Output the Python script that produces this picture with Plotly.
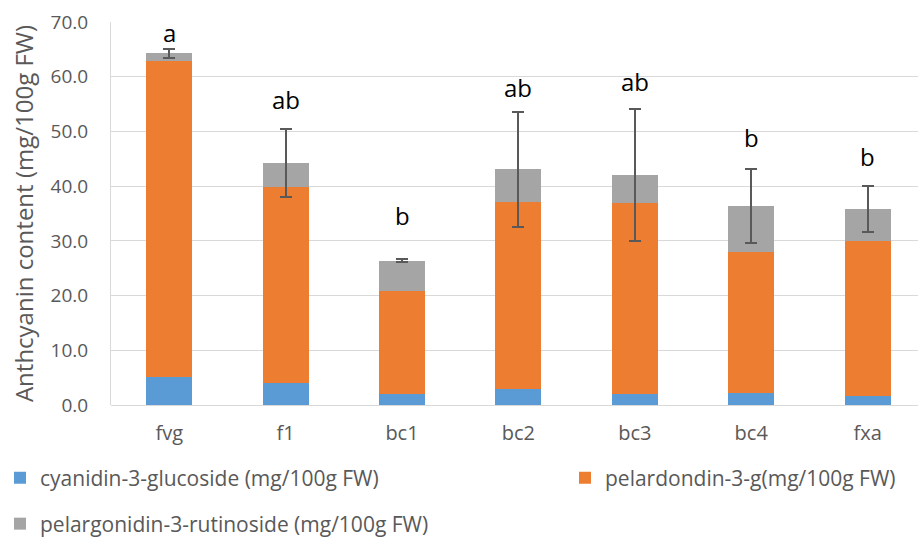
import plotly.graph_objects as go

# Cultivars / breeding lines on the x axis
cultivars = ["fvg", "f1", "bc1", "bc2", "bc3", "bc4", "fxa"]

# Anthocyanin components (mg/100g FW)
cyanidin_3_glucoside = [5.2, 4.0, 2.1, 2.9, 2.0, 2.2, 1.7]
pelargonidin_3_glucoside = [57.7, 35.8, 18.8, 34.2, 34.9, 25.8, 28.2]
pelargonidin_3_rutinoside = [1.4, 4.5, 5.5, 6.0, 5.1, 8.4, 5.9]

# Standard deviation of total anthocyanin content
total_sd = [0.8, 6.2, 0.2, 10.5, 12.1, 6.7, 4.2]

# Significance letters and the height at which they are written
sig_letters = ["a", "ab", "b", "ab", "ab", "b", "b"]
letter_y = [68.0, 55.8, 34.6, 58.0, 59.2, 48.9, 45.5]

FONT = "Open Sans, Noto Sans, sans-serif"
TEXT_GREY = "#595959"
GRID = "#D9D9D9"
BAR_W = 0.395
W, H = 918, 540

fig = go.Figure()
fig.add_trace(go.Bar(
    x=cultivars, y=cyanidin_3_glucoside, width=BAR_W,
    name="cyanidin-3-glucoside (mg/100g FW)",
    marker=dict(color="#5B9BD5", line=dict(width=0)),
    legend="legend",
))
fig.add_trace(go.Bar(
    x=cultivars, y=pelargonidin_3_glucoside, width=BAR_W,
    name="pelardondin-3-g(mg/100g FW)",
    marker=dict(color="#ED7D31", line=dict(width=0)),
    legend="legend2",
))
fig.add_trace(go.Bar(
    x=cultivars, y=pelargonidin_3_rutinoside, width=BAR_W,
    name="pelargonidin-3-rutinoside (mg/100g FW)",
    marker=dict(color="#A5A5A5", line=dict(width=0)),
    error_y=dict(type="data", array=total_sd, visible=True,
                 color="#595959", thickness=2, width=6),
    legend="legend3",
))

for cat, letter, ly in zip(cultivars, sig_letters, letter_y):
    fig.add_annotation(
        x=cat, y=ly, text=letter, showarrow=False,
        xanchor="center", yanchor="middle",
        font=dict(family=FONT, size=24, color="#000000"),
    )


def legend_box(x_px, y_px):
    return dict(
        visible=True,
        orientation="h", xref="container", yref="container",
        x=x_px / W, y=1 - y_px / H, xanchor="left", yanchor="middle",
        font=dict(family=FONT, size=21, color=TEXT_GREY),
        itemwidth=30, bgcolor="rgba(0,0,0,0)", borderwidth=0,
    )


fig.update_layout(
    width=W, height=H,
    margin=dict(l=111, r=0, t=22, b=135),
    paper_bgcolor="white", plot_bgcolor="white",
    barmode="stack",
    showlegend=True,
    font=dict(family=FONT, color=TEXT_GREY),
    legend=legend_box(0, 478),
    legend2=legend_box(565, 478),
    legend3=legend_box(0, 524),
    xaxis=dict(
        range=[-0.5, 6.433], showgrid=False, zeroline=False,
        showline=False, ticks="", ticklabelstandoff=14,
        tickfont=dict(family=FONT, size=20, color=TEXT_GREY),
    ),
    yaxis=dict(
        range=[0, 70], dtick=10, tickformat=".1f",
        showgrid=True, gridcolor=GRID, gridwidth=1,
        zeroline=True, zerolinecolor=GRID, zerolinewidth=1,
        showline=True, linecolor=GRID, linewidth=1,
        ticks="", ticklabelstandoff=18,
        tickfont=dict(family=FONT, size=19, color=TEXT_GREY),
        title=dict(text="Anthcyanin content (mg/100g FW)", standoff=10,
                   font=dict(family=FONT, size=24, color=TEXT_GREY)),
    ),
)

fig.write_html("out.html")
